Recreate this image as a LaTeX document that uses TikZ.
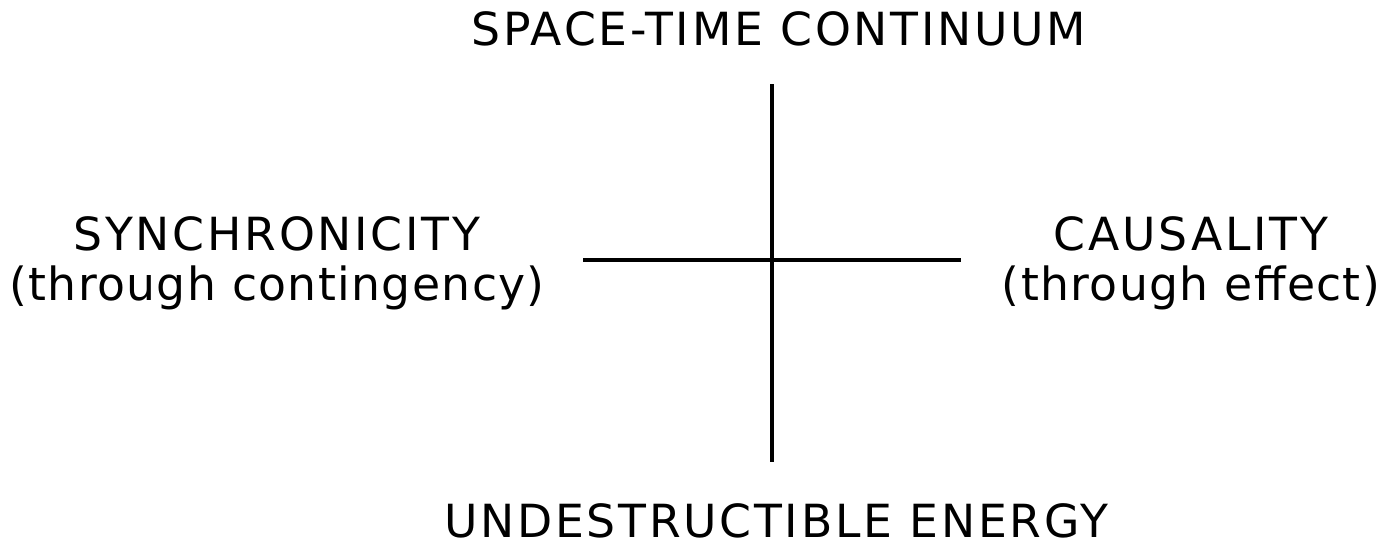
\documentclass[tikz,border=0pt]{standalone}
\usepackage{fontspec}
\setmainfont{DejaVu Sans}[LetterSpace=6]
\newfontfamily\lowerfont{DejaVu Sans}[LetterSpace=3]
\usepackage{tikz}
\usetikzlibrary{positioning}

\begin{document}
\begin{tikzpicture}[x=0.02cm, y=-0.02cm,
  lbl/.style={font=\fontsize{26}{28.45}\selectfont, inner sep=0pt, align=center},
  axis/.style={line width=2pt, line cap=butt}]

  \useasboundingbox (0,0) rectangle (1386,548);

  % ----- Axis end points -----
  \coordinate (top) at (772,84);
  \coordinate (bot) at (772,462);
  \coordinate (lft) at (583,260);
  \coordinate (rgt) at (961,260);

  % ----- Labels -----
  \node[lbl, anchor=base] (space) at (779,45) {SPACE-TIME CONTINUUM};
  \node[lbl, anchor=base] (energy) at (776,537) {UNDESTRUCTIBLE ENERGY};
  \node[lbl, anchor=base] (sync) at (277,300) {SYNCHRONICITY\\{\lowerfont(through contingency)}};
  \node[lbl, anchor=base] (caus) at (1191,300) {CAUSALITY\\{\lowerfont(through effect)}};

  % ----- Cross -----
  \draw[axis] (top) -- (bot);
  \draw[axis] (lft) -- (rgt);

\end{tikzpicture}
\end{document}
